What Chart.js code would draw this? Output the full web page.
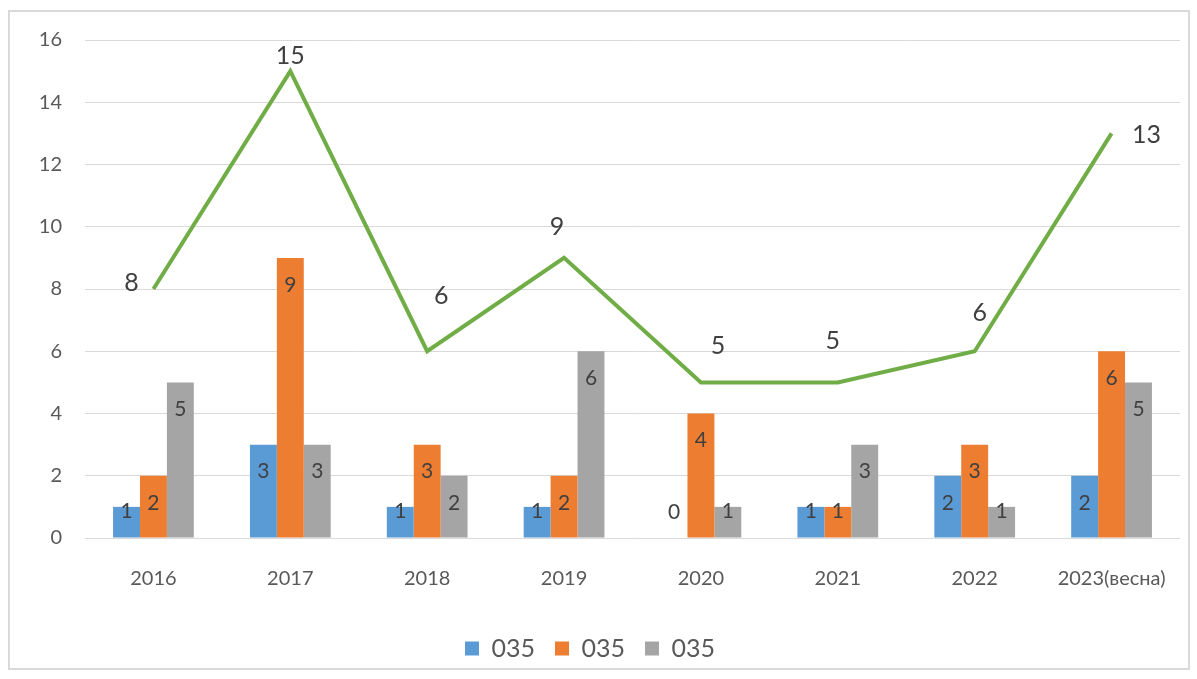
<!DOCTYPE html>
<html>
<head>
<meta charset="utf-8">
<script src="https://cdn.jsdelivr.net/npm/chart.js@4/dist/chart.umd.min.js"></script>
<style>
  html, body { margin: 0; padding: 0; background: #fff; }
  #wrap { position: relative; width: 1197px; height: 679px; }
  #frame { position: absolute; left: 8px; top: 10px; width: 1178px; height: 656px;
           border: 2px solid #d9d9d9; pointer-events: none; }
</style>
</head>
<body>
<div id="wrap">
  <canvas id="chart" width="1197" height="679"></canvas>
  <div id="frame"></div>
</div>
<script>
const years = ['2016', '2017', '2018', '2019', '2020', '2021', '2022', '2023(весна)']
const seriesNames = ['035', '035', '035']
const blueVals = [1, 3, 1, 1, 0, 1, 2, 2]
const orangeVals = [2, 9, 3, 2, 4, 1, 3, 6]
const greyVals = [5, 3, 2, 6, 1, 3, 1, 5]
const totalVals = [8, 15, 6, 9, 5, 5, 6, 13]
const yTicks = [0, 2, 4, 6, 8, 10, 12, 14, 16]

const FONT = 'Lato, "Liberation Sans", sans-serif'

// where each total label sits relative to its point (as in the picture)
const totalOffsets = [[-22, -6], [0, -15], [14, -55], [-7, -31], [17, -36], [-5, -41], [5, -38], [35, 2]]

const labelPlugin = {
  id: 'valueLabels',
  afterDatasetsDraw(chart) {
    const ctx = chart.ctx
    ctx.save()
    ctx.fillStyle = '#404040'
    ctx.textAlign = 'center'
    ctx.textBaseline = 'middle'
    chart.data.datasets.forEach((ds, di) => {
      const meta = chart.getDatasetMeta(di)
      meta.data.forEach((el, i) => {
        const v = ds.data[i]
        if (ds.type === 'line') {
          ctx.font = '25px ' + FONT
          const off = totalOffsets[i]
          ctx.fillText(String(v), el.x + off[0], el.y + off[1])
        } else {
          ctx.font = '21px ' + FONT
          const y = Math.min(el.y + 27, el.base - 26)
          ctx.fillText(String(v), el.x, y)
        }
      })
    })
    ctx.restore()
  }
}

const barStyle = { categoryPercentage: 0.59, barPercentage: 1.0 }

new Chart(document.getElementById('chart'), {
  data: {
    labels: years,
    datasets: [
      {
        type: 'line',
        label: 'total',
        data: totalVals,
        borderColor: '#70AD47',
        borderWidth: 4,
        pointRadius: 0,
        tension: 0,
        order: -1,
      },
      { type: 'bar', label: seriesNames[0], data: blueVals, backgroundColor: '#5B9BD5', ...barStyle },
      { type: 'bar', label: seriesNames[1], data: orangeVals, backgroundColor: '#ED7D31', ...barStyle },
      { type: 'bar', label: seriesNames[2], data: greyVals, backgroundColor: '#A5A5A5', ...barStyle },
    ],
  },
  options: {
    responsive: false,
    animation: false,
    layout: { padding: { left: 0, right: 17, top: 40, bottom: 8 } },
    plugins: {
      tooltip: { enabled: false },
      legend: {
        position: 'bottom',
        labels: {
          filter: (item) => item.datasetIndex !== 0,
          boxWidth: 14,
          boxHeight: 14,
          padding: 20,
          color: '#595959',
          font: { family: FONT, size: 25 },
        },
      },
    },
    scales: {
      x: {
        grid: { display: false },
        border: { display: false },
        ticks: { color: '#595959', font: { family: FONT, size: 20 }, padding: 21, maxRotation: 0 },
        afterFit: (s) => { s.height = 78 },
      },
      y: {
        min: 0,
        max: 16,
        afterBuildTicks: (s) => { s.ticks = yTicks.map(v => ({ value: v })) },
        grid: { color: '#d9d9d9', lineWidth: 1, drawTicks: false },
        border: { display: false },
        ticks: { color: '#595959', font: { family: FONT, size: 20 }, padding: 23 },
        afterFit: (s) => { s.width = 85 },
      },
    },
  },
  plugins: [labelPlugin],
})
</script>
</body>
</html>
